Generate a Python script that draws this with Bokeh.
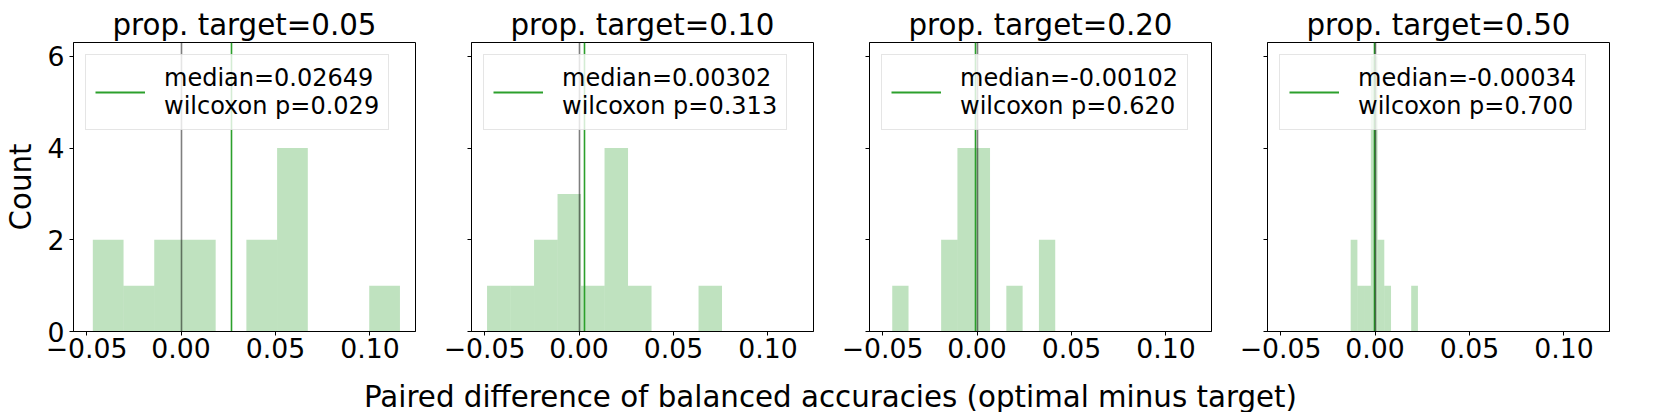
import numpy as np
from bokeh.plotting import figure
from bokeh.layouts import row, column
from bokeh.models import (Range1d, FixedTicker, Legend, LegendItem, Label)
from bokeh.embed import file_html
from bokeh.resources import INLINE

# ---- data ----
titles = ["prop. target=0.05", "prop. target=0.10", "prop. target=0.20", "prop. target=0.50"]
hist_lo = [-0.0467, -0.0487, -0.0449, -0.0129]
hist_hi = [0.1159, 0.0757, 0.0414, 0.0227]
counts_005 = [2, 1, 2, 2, 0, 2, 4, 0, 0, 1]
counts_010 = [1, 1, 2, 3, 1, 4, 1, 0, 0, 1]
counts_020 = [1, 0, 0, 2, 4, 4, 0, 1, 0, 2]
counts_050 = [2, 1, 1, 6, 2, 1, 0, 0, 0, 1]
medians = [0.02649, 0.00302, -0.00102, -0.00034]
median_labels = ["0.02649", "0.00302", "-0.00102", "-0.00034"]
wilcoxon_p = ["0.029", "0.313", "0.620", "0.700"]
x_ticks = [-0.05, 0.0, 0.05, 0.10]
x_tick_labels = ["\u22120.05", "0.00", "0.05", "0.10"]
y_ticks = [0, 2, 4, 6]
y_tick_labels = ["0", "2", "4", "6"]
x_label = "Paired difference of balanced accuracies (optimal minus target)"
y_label = "Count"
all_counts = [counts_005, counts_010, counts_020, counts_050]

FONT = "DejaVu Sans"
GREEN = "#2ca02c"
BIG = "29.3px"
TICK = "26.7px"

# shared ranges with matplotlib-like 5% margins
xmin, xmax = min(hist_lo), max(hist_hi)
pad = 0.05 * (xmax - xmin)
ymax = max(max(c) for c in all_counts) * 1.05

TOP, FH, FW, BOT = 42, 289, 342, 37
figs = []
for i in range(4):
    first = (i == 0)
    left = 73 if first else 50
    right = 6
    p = figure(width=left + FW + right, height=TOP + FH + BOT,
               min_border_left=left, min_border_right=right,
               min_border_top=TOP, min_border_bottom=BOT,
               x_range=Range1d(xmin - pad, xmax + pad), y_range=Range1d(0, ymax),
               output_backend="svg", toolbar_location=None)
    p.title.text = titles[i]
    p.title.align = "center"
    p.title.text_font = FONT
    p.title.text_font_size = BIG
    p.title.text_font_style = "normal"
    p.title.text_color = "black"
    p.title.standoff = 1
    p.title.offset = 0

    p.grid.visible = False
    p.outline_line_color = "black"
    p.outline_line_width = 1
    p.background_fill_color = "white"
    p.border_fill_color = "white"

    for ax in (p.xaxis[0], p.yaxis[0]):
        ax.axis_line_color = "black"
        ax.major_tick_line_color = "black"
        ax.minor_tick_line_color = None
        ax.major_tick_out = 4
        ax.major_tick_in = 0
        ax.major_label_text_font = FONT
        ax.major_label_text_font_size = TICK
        ax.major_label_text_color = "black"
    p.xaxis.major_label_standoff = 2
    p.yaxis.major_label_standoff = 5

    p.xaxis.ticker = FixedTicker(ticks=x_ticks)
    p.xaxis.major_label_overrides = dict(zip(x_ticks, x_tick_labels))
    p.yaxis.ticker = FixedTicker(ticks=y_ticks)
    if first:
        p.yaxis.major_label_overrides = dict(zip(y_ticks, y_tick_labels))
        p.yaxis.axis_label = y_label
        p.yaxis.axis_label_text_font = FONT
        p.yaxis.axis_label_text_font_size = BIG
        p.yaxis.axis_label_text_font_style = "normal"
        p.yaxis.axis_label_text_color = "black"
        p.yaxis.axis_label_standoff = 7
    else:
        p.yaxis.major_label_overrides = {t: "" for t in y_ticks}

    edges = np.linspace(hist_lo[i], hist_hi[i], len(all_counts[i]) + 1)
    p.quad(left=edges[:-1], right=edges[1:], bottom=0, top=all_counts[i],
           fill_color=GREEN, fill_alpha=0.3, line_color=None)
    p.vspan(x=[medians[i]], line_color=GREEN, line_width=1.6)
    p.vspan(x=[0.0], line_color="black", line_alpha=0.5, line_width=1.6)

    dummy = p.line(x=[medians[i]], y=[0], line_color=GREEN, line_width=1.8)
    leg = Legend(items=[LegendItem(label="median=%s\nwilcoxon p=%s" % (median_labels[i], wilcoxon_p[i]),
                                   renderers=[dummy])],
                 location="top_left", margin=12, padding=9, spacing=0,
                 glyph_width=50, glyph_height=20, label_standoff=19,
                 label_text_font=FONT, label_text_font_size="24px",
                 label_text_line_height=1.1, label_text_color="black",
                 border_line_color="#cccccc", border_line_width=1,
                 background_fill_color="white", background_fill_alpha=0.8)
    p.add_layout(leg)
    figs.append(p)

lab = figure(width=1660, height=44, min_border=0, x_range=Range1d(0, 1), y_range=Range1d(0, 1),
             output_backend="svg", toolbar_location=None)
lab.axis.visible = False
lab.grid.visible = False
lab.outline_line_color = None
lab.add_layout(Label(x=830, y=16, x_units="screen", y_units="screen", text=x_label,
                     text_align="center", text_baseline="alphabetic",
                     text_font=FONT, text_font_size=BIG, text_color="black"))

layout = column(row(*figs), lab)
open("out.html", "w").write(file_html(layout, INLINE))
